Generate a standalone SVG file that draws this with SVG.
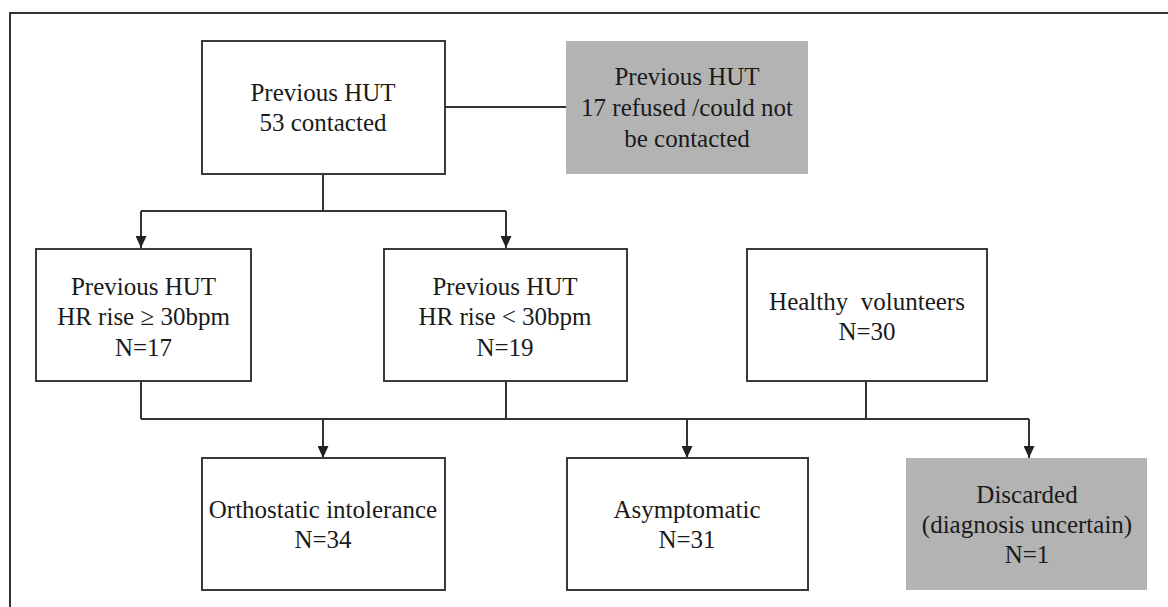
<svg xmlns="http://www.w3.org/2000/svg" width="1168" height="607" viewBox="0 0 1168 607">
<defs>
<marker id="arr" markerWidth="12" markerHeight="11" refX="12" refY="5.5" orient="auto" markerUnits="userSpaceOnUse" viewBox="0 0 12 11">
<path d="M0,0 L12,5.5 L0,11 Z" fill="#222"/>
</marker>
<style>
.box{fill:#fff;stroke:#3a3a3a;stroke-width:2}
.gray{fill:#b3b3b3;stroke:none}
.t{font-family:'Liberation Serif','Times New Roman',Tinos,'DejaVu Serif',serif;font-size:25px;fill:#1a1a1a;text-anchor:middle}
.c{fill:none;stroke:#333;stroke-width:2}
</style>
</defs>
<rect width="1168" height="607" fill="#fff"/>
<path d="M10,607 V13 H1168" fill="none" stroke="#333" stroke-width="2"/>

<g id="connectors">
<line class="c" x1="445" y1="107" x2="567" y2="107"/>
<line class="c" x1="323" y1="174" x2="323" y2="211"/>
<line class="c" x1="141" y1="211" x2="506" y2="211"/>
<line class="c" x1="141" y1="211" x2="141" y2="248" marker-end="url(#arr)"/>
<line class="c" x1="506" y1="211" x2="506" y2="248" marker-end="url(#arr)"/>
<line class="c" x1="141" y1="381" x2="141" y2="419"/>
<line class="c" x1="506" y1="381" x2="506" y2="419"/>
<line class="c" x1="866" y1="381" x2="866" y2="419"/>
<line class="c" x1="141" y1="419" x2="1029" y2="419"/>
<line class="c" x1="323" y1="419" x2="323" y2="458" marker-end="url(#arr)"/>
<line class="c" x1="687" y1="419" x2="687" y2="458" marker-end="url(#arr)" stroke-width="2.5"/>
<line class="c" x1="1029" y1="419" x2="1029" y2="458" marker-end="url(#arr)"/>
</g>

<g id="contacted">
<rect class="box" x="202" y="41" width="243" height="133"/>
<text class="t" x="323" y="101">Previous HUT</text>
<text class="t" x="323" y="131">53 contacted</text>
</g>

<g id="refused">
<rect class="gray" x="566" y="41" width="242" height="133"/>
<text class="t" x="687" y="85">Previous HUT</text>
<text class="t" x="687" y="116">17 refused /could not</text>
<text class="t" x="687" y="147">be contacted</text>
</g>

<g id="hr-high">
<rect class="box" x="36" y="249" width="215" height="132"/>
<text class="t" x="143.5" y="295">Previous HUT</text>
<text class="t" x="143.5" y="325">HR rise ≥ 30bpm</text>
<text class="t" x="143.5" y="356">N=17</text>
</g>

<g id="hr-low">
<rect class="box" x="384" y="249" width="243" height="132"/>
<text class="t" x="505" y="295">Previous HUT</text>
<text class="t" x="505" y="325">HR rise &lt; 30bpm</text>
<text class="t" x="505" y="356">N=19</text>
</g>

<g id="healthy">
<rect class="box" x="747" y="249" width="240" height="132"/>
<text class="t" x="867" y="310" xml:space="preserve">Healthy  volunteers</text>
<text class="t" x="867" y="340">N=30</text>
</g>

<g id="orthostatic">
<rect class="box" x="202" y="458" width="243" height="132"/>
<text class="t" x="323" y="518">Orthostatic intolerance</text>
<text class="t" x="323" y="548">N=34</text>
</g>

<g id="asymptomatic">
<rect class="box" x="567" y="458" width="241" height="132"/>
<text class="t" x="687" y="518">Asymptomatic</text>
<text class="t" x="687" y="548">N=31</text>
</g>

<g id="discarded">
<rect class="gray" x="906" y="458" width="241" height="132"/>
<text class="t" x="1027" y="503">Discarded</text>
<text class="t" x="1027" y="533">(diagnosis uncertain)</text>
<text class="t" x="1027" y="563">N=1</text>
</g>
</svg>
